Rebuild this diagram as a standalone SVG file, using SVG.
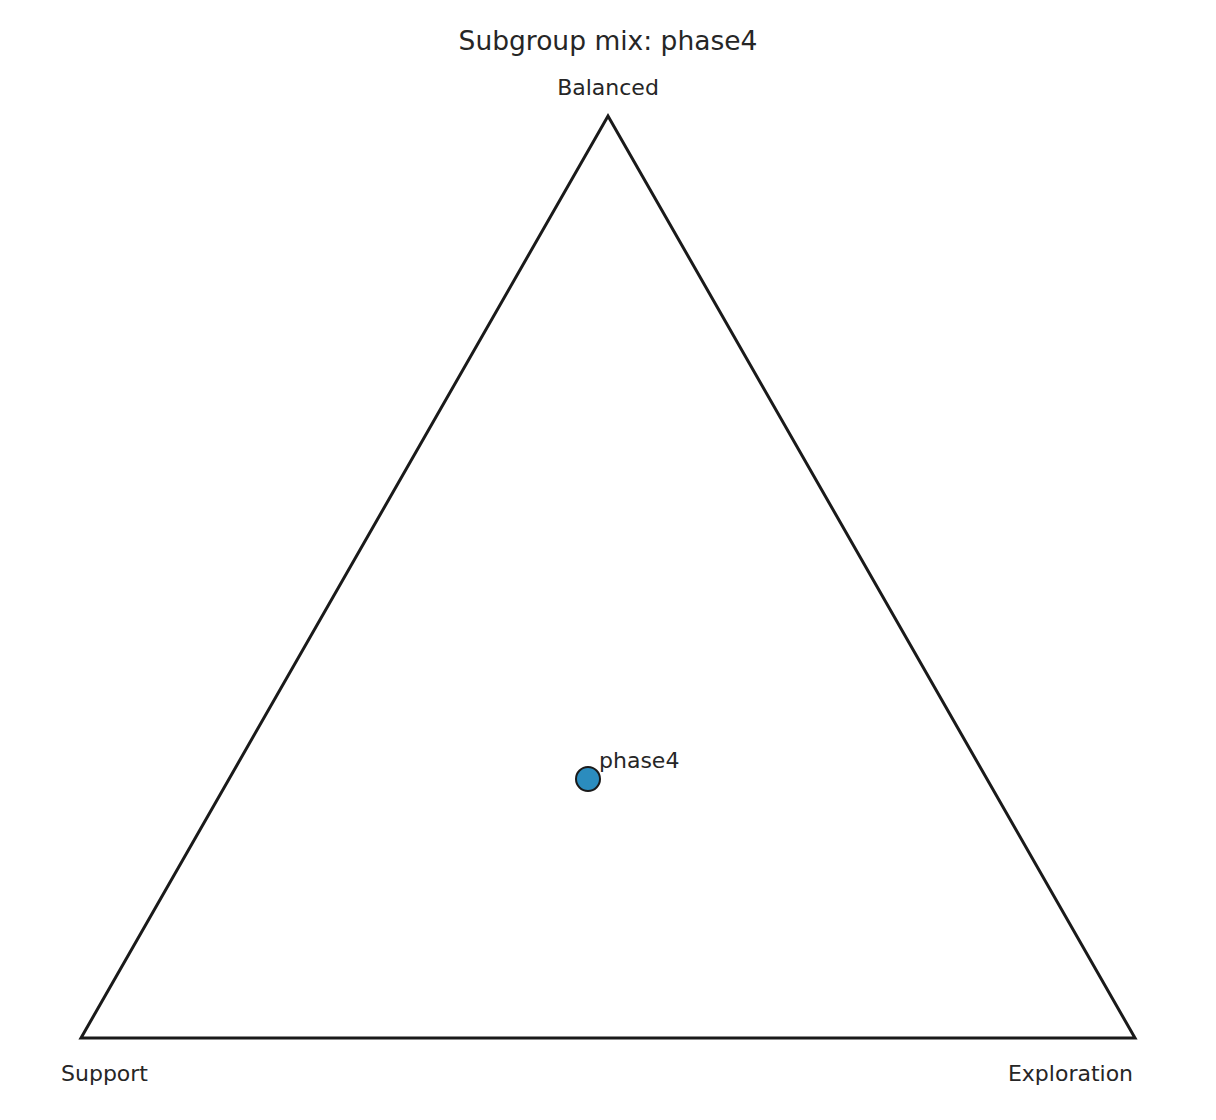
<svg xmlns="http://www.w3.org/2000/svg" width="1216" height="1120" viewBox="0 0 1216 1120">
<style>
text{font-family:"DejaVu Sans","Liberation Sans",sans-serif;fill:#262626}
.lbl{font-size:22px}
.title{font-size:26.5px}
.edge{fill:none;stroke:#1a1a1a;stroke-width:3;stroke-linejoin:miter}
</style>
<rect width="1216" height="1120" fill="#ffffff"/>
<text class="title" x="608" y="50" text-anchor="middle">Subgroup mix: phase4</text>
<g id="connectors">
<polygon class="edge" points="81,1038 1135,1038 608,116"/>
</g>
<g id="balanced"><text class="lbl" x="608" y="95" text-anchor="middle">Balanced</text></g>
<g id="support"><text class="lbl" x="104.5" y="1081" text-anchor="middle">Support</text></g>
<g id="exploration"><text class="lbl" x="1070.5" y="1081" text-anchor="middle">Exploration</text></g>
<g id="phase4">
<circle cx="588" cy="779" r="12" fill="#2b8cbe" stroke="#1a1a1a" stroke-width="2"/>
<text class="lbl" x="599" y="768">phase4</text>
</g>
</svg>
